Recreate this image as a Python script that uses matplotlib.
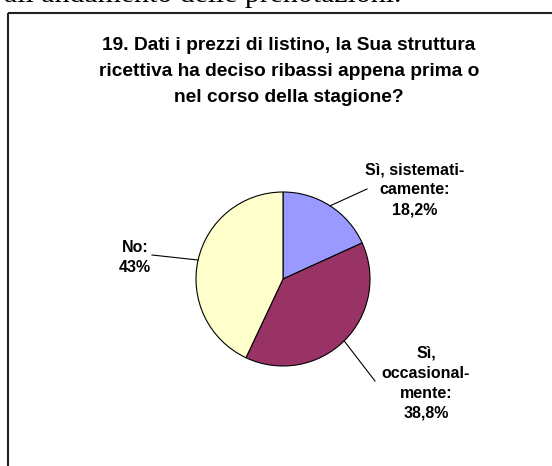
import numpy as np
import matplotlib
matplotlib.use("Agg")
import matplotlib.pyplot as plt
from matplotlib import font_manager

# risposte alla domanda 19
labels = ["Sì, sistemati-\ncamente:\n18,2%", "Sì,\noccasional-\nmente:\n38,8%", "No:\n43%"]
values = [18.2, 38.8, 43.0]
colors = ["#9999FF", "#993366", "#FFFFCC"]

title_lines = ["19. Dati i prezzi di listino, la Sua struttura",
               "ricettiva ha deciso ribassi appena prima o",
               "nel corso della stagione?"]

W, H = 552, 466
CX, CY, R = 283, 279, 87  # centro e raggio della torta in pixel


def px(x, y):
    """pixel (origine in alto a sinistra) -> coordinate dati"""
    return (x - CX) / R, (CY - y) / R


def find_font(name, bold):
    for f in font_manager.fontManager.ttflist:
        w = f.weight if isinstance(f.weight, int) else 700 if f.weight == "bold" else 400
        if f.name == name and f.style == "normal" and (w >= 600) == bold:
            return font_manager.FontProperties(fname=f.fname)
    return font_manager.FontProperties(family="DejaVu Sans",
                                       weight="bold" if bold else "normal")


bold_fp = find_font("Liberation Sans", True)
serif_fp = find_font("Liberation Serif", False)

fig = plt.figure(figsize=(W / 100, H / 100), dpi=100)
ax = fig.add_axes([0, 0, 1, 1])

wedges, _ = ax.pie(values, colors=colors, startangle=90, counterclock=False,
                   radius=1.0, wedgeprops=dict(edgecolor="black", linewidth=0.8))

ax.set_xlim((0 - CX) / R, (W - CX) / R)
ax.set_ylim((CY - H) / R, CY / R)
ax.set_aspect("equal")
ax.axis("off")

# riga di testo del documento, tagliata in alto
x0, y0 = px(401, 2)
ax.text(x0, y0, "ali andamento delle prenotazioni.", ha="right", va="baseline",
        fontproperties=serif_fp, fontsize=21.5, color="black", clip_on=False)

# cornice del grafico (aperta a destra e in basso)
bx0, by0 = px(8, 13)
bx1, _ = px(W + 5, 13)
_, by1 = px(8, H + 5)
ax.plot([bx0, bx1], [by0, by0], color="#222222", lw=1.5, solid_capstyle="butt")
ax.plot([bx0, bx0], [by0, by1], color="#222222", lw=1.5, solid_capstyle="butt")

for i, line in enumerate(title_lines):
    ax.text(*px(289, 46 + 26 * i), line, ha="center", va="center",
            fontproperties=bold_fp, fontsize=13.8)

# etichette con linee di richiamo
label_top = [(415, 170), (426, 353), (135, 247)]
leader_end = [(367, 189), (375, 381), (152, 255)]
for w, lab, (lx, ly), (ex, ey) in zip(wedges, labels, label_top, leader_end):
    ang = np.deg2rad((w.theta1 + w.theta2) / 2)
    exd, eyd = px(ex, ey)
    ax.plot([np.cos(ang), exd], [np.sin(ang), eyd], color="black", lw=0.8)
    for j, part in enumerate(lab.split("\n")):
        ax.text(*px(lx, ly + 20 * j), part, ha="center", va="center",
                fontproperties=bold_fp, fontsize=11.5)

fig.savefig("out.png", dpi=100)
